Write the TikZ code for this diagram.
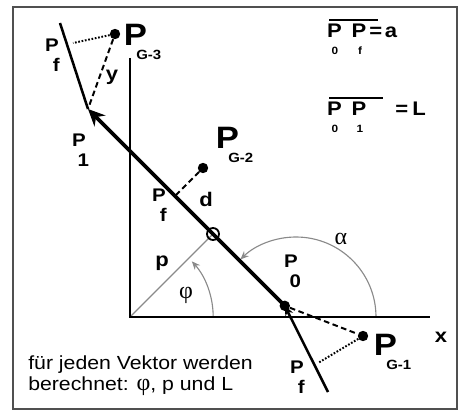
\documentclass[tikz,border=0pt]{standalone}
\usepackage{fontspec}
\setmainfont{Liberation Sans}[FakeStretch=1.12]
\newfontfamily\grk{Liberation Serif}
\usetikzlibrary{arrows.meta,calc}
\definecolor{frame}{HTML}{505050}
\definecolor{arcgray}{HTML}{8A8A8A}
\newcommand{\bigP}[1]{P\kern-7.5pt\raisebox{-10.5pt}{\fontsize{9.5}{10}\selectfont #1}}
\tikzset{
  axisln/.style={draw=black, line width=1.5pt},
  vec/.style={draw=black, line width=2.6pt, -{Stealth[length=12pt,width=11pt]}},
  fline/.style={draw=black, line width=1.8pt},
  gline/.style={draw=arcgray, line width=0.8pt},
  garc/.style={draw=arcgray, line width=0.8pt, -{Stealth[length=6pt,width=5pt]}},
  dashln/.style={draw=black, line width=1.4pt, dash pattern=on 4pt off 2.5pt},
  dotln/.style={draw=black, line width=1.4pt, dash pattern=on 1.2pt off 1.2pt},
  ovline/.style={draw=black, line width=1.4pt},
  ptdot/.style={circle, fill=black, inner sep=0pt, minimum size=2.6mm},
  ring/.style={circle, draw=black, line width=1.3pt, inner sep=0pt, minimum size=3mm},
  bigpt/.style={font=\fontsize{22}{22}\selectfont\bfseries, inner sep=0pt, anchor=base west},
  ptlbl/.style={font=\fontsize{13}{14}\selectfont\bfseries, align=center, inner sep=0pt},
  lbl/.style={font=\fontsize{14}{14}\selectfont\bfseries, inner sep=0pt},
  grklbl/.style={font=\fontsize{17}{17}\selectfont\grk, inner sep=0pt},
  eqlbl/.style={font=\fontsize{14}{14}\selectfont\bfseries, inner sep=0pt, anchor=base},
  eqsub/.style={font=\fontsize{7.5}{8}\selectfont\bfseries, inner sep=0pt, anchor=base}
}

\begin{document}
\begin{tikzpicture}
  \useasboundingbox (-3.25,-2.375) rectangle (8.35,7.925);
  \draw[draw=frame, line width=1.4pt] (-2.925,-2.3) rectangle (8.175,7.75);

  % points
  \coordinate (O) at (0,0);
  \coordinate (ytop) at (0,6.475);
  \coordinate (xend) at (7.5,0);
  \coordinate (P0) at (3.87,0.28);
  \coordinate (P1) at (-1.05,5.2);
  \coordinate (F) at (2.075,2.075);
  \coordinate (A) at (4.15,0);
  \coordinate (Pt) at (-1.75,7.35);
  \coordinate (Pb) at (4.95,-1.875);
  \coordinate (ft) at (-1.425,6.85);
  \coordinate (fb) at (4.7,-1.15);

  % p and the angles
  \draw[gline] (O) -- (F);
  \draw[garc] (2.08,0) arc[start angle=0, end angle=42, radius=2.08];
  \draw[garc] ($(A)+(2,0)$) arc[start angle=0, end angle=134, radius=2];

  \draw[axisln] (ytop) -- (O) -- (xend);

  % the vector and its ends
  \draw[fline] (P1) -- (Pt);
  \draw[fline, -{Stealth[length=7pt,width=6pt]}] (Pb) -- (P0);
  \draw[vec] (P0) -- (P1);
  \node[ring] (f) at (F) {};
  \node[ptdot] (p0) at (P0) {};
  \node[ptdot] (g1) at (5.825,-0.475) {};
  \node[ptdot] (g2) at (1.825,3.725) {};
  \node[ptdot] (g3) at (-0.375,7.075) {};
  \draw[dashln] (g3) -- (P1);
  \draw[dotln] (g3) -- (ft);
  \draw[dashln] (g2) -- ($(P0)!(g2)!(P1)$);
  \draw[dashln] (p0) -- (g1);
  \draw[dotln] (g1) -- (fb);

  % labels
  \node[bigpt] (lg3) at (-0.1625,6.8) {\bigP{G-3}};
  \node[bigpt] (lg2) at (2.1375,4.225) {\bigP{G-2}};
  \node[bigpt] (lg1) at (6.0875,-0.95) {\bigP{G-1}};
  \node[ptlbl] (lpf3) at (-1.95,6.55) {P\\\hspace*{6pt}f};
  \node[ptlbl] (lp1) at (-1.275,4.175) {P\\\hspace*{6pt}1};
  \node[ptlbl] (lpf2) at (0.725,2.8) {P\\\hspace*{6pt}f};
  \node[ptlbl] (lp0) at (4.025,1.15) {P\\\hspace*{6pt}0};
  \node[ptlbl] (lpf1) at (4.175,-1.5) {P\\\hspace*{6pt}f};
  \node[lbl] (ly) at (-0.45,6.0) {y};
  \node[lbl] (ld) at (1.9,2.95) {d};
  \node[lbl] (lp) at (0.8,1.35) {p};
  \node[lbl] (lx) at (7.775,-0.5) {x};
  \node[grklbl] (lphi) at (1.4,0.55) {φ};
  \node[grklbl] (lalpha) at (5.275,1.95) {α};

  % P0Pf = a and P0P1 = L
  \node[eqlbl] (ea0) at (5.1125,6.975) {P};
  \node[eqlbl] (eaf) at (5.725,6.975) {P};
  \node[eqsub] (ea0s) at (5.125,6.55) {0};
  \node[eqsub] (eafs) at (5.75,6.55) {f};
  \draw[ovline] (4.975,7.425) -- (6.2,7.425);
  \node[eqlbl, anchor=base west] (eav) at (5.975,6.975) {=\hspace{2pt}a};
  \node[eqlbl] (eL0) at (5.1125,5.05) {P};
  \node[eqlbl] (eL1) at (5.725,5.05) {P};
  \node[eqsub] (eL0s) at (5.125,4.625) {0};
  \node[eqsub] (eL1s) at (5.75,4.625) {1};
  \draw[ovline] (4.975,5.475) -- (6.325,5.475);
  \node[eqlbl, anchor=base west] (eLv) at (6.625,5.05) {=\hspace{3pt}L};

  \node[inner sep=0pt, anchor=north west, align=left, font=\fontsize{13.5}{15}\selectfont] (note) at (-2.55,-0.95) {für jeden Vektor werden\\berechnet: {\grk\fontsize{17}{15}\selectfont φ}, p und L};
\end{tikzpicture}
\end{document}
